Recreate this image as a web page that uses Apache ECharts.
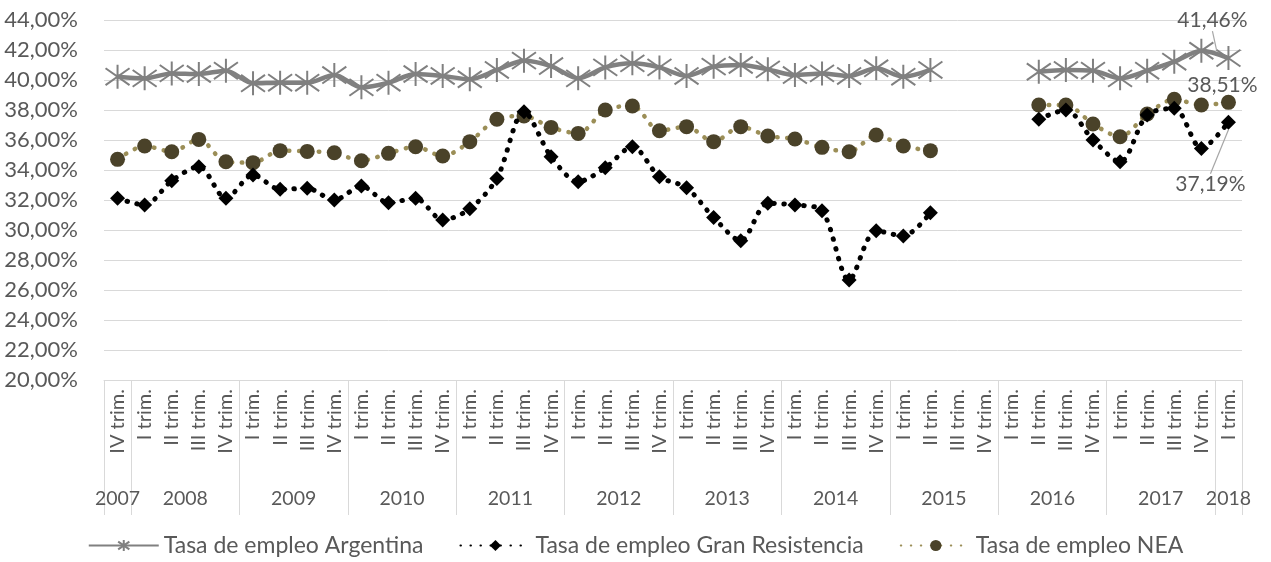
<!DOCTYPE html>
<html>
<head>
<meta charset="utf-8">
<script src="https://cdn.jsdelivr.net/npm/echarts@6/dist/echarts.min.js"></script>
<style>
html,body{margin:0;padding:0;background:#fff;}
#chart{width:1271px;height:562px;}
</style>
</head>
<body>
<div id="chart"></div>
<script>
// ---- data ----
const quarters = [
  "IV trim.",
  "I trim.","II trim.","III trim.","IV trim.",
  "I trim.","II trim.","III trim.","IV trim.",
  "I trim.","II trim.","III trim.","IV trim.",
  "I trim.","II trim.","III trim.","IV trim.",
  "I trim.","II trim.","III trim.","IV trim.",
  "I trim.","II trim.","III trim.","IV trim.",
  "I trim.","II trim.","III trim.","IV trim.",
  "I trim.","II trim.","III trim.","IV trim.",
  "I trim.","II trim.","III trim.","IV trim.",
  "I trim.","II trim.","III trim.","IV trim.",
  "I trim."
];
const years = ["2007","2008","2009","2010","2011","2012","2013","2014","2015","2016","2017","2018"];
const yearCenters = [0.5,3,7,11,15,19,23,27,31,35,39,41.5];
const yearBounds = [0,1,5,9,13,17,21,25,29,33,37,41,42];

const argentina = [
  40.22,
  40.11,40.44,40.40,40.62,
  39.78,39.82,39.82,40.33,
  39.51,39.82,40.40,40.27,
  40.05,40.67,41.29,40.93,
  40.11,40.84,41.11,40.84,
  40.27,40.89,41.00,40.71,
  40.33,40.44,40.27,40.78,
  40.22,40.67,null,null,
  null,40.55,40.67,40.62,
  40.11,40.62,41.22,41.95,
  41.46
];
const granResistencia = [
  32.11,
  31.67,33.29,34.22,32.11,
  33.67,32.71,32.78,32.00,
  32.93,31.82,32.11,30.67,
  31.41,33.44,37.89,34.89,
  33.22,34.15,35.55,33.55,
  32.82,30.84,29.29,31.78,
  31.67,31.29,26.67,29.95,
  29.60,31.15,null,null,
  null,37.38,38.00,36.00,
  34.55,37.67,38.11,35.44,
  37.19
];
const nea = [
  34.71,
  35.60,35.22,36.04,34.55,
  34.49,35.29,35.24,35.15,
  34.62,35.11,35.55,34.93,
  35.89,37.38,37.60,36.84,
  36.44,38.00,38.27,36.62,
  36.89,35.89,36.89,36.27,
  36.07,35.51,35.22,36.33,
  35.60,35.29,null,null,
  null,38.33,38.33,37.07,
  36.22,37.73,38.71,38.33,
  38.51
];
const yMin = 20, yMax = 44, yStep = 2;

// ---- chart ----
const FONT = 'Lato';
const TXT = '#595959';
const GRID = '#d9d9d9';
const fmtPct = v => v.toFixed(2).replace('.', ',') + '%';
const lastIdx = quarters.length - 1;
const labelStyle = { fontFamily: FONT, fontSize: 21, color: TXT };

function withLastLabel(arr, pos) {
  return arr.map((v, i) => i === lastIdx ? {
    value: v,
    label: Object.assign({ show: true, position: pos, formatter: p => fmtPct(p.value) }, labelStyle)
  } : v);
}
function shiftLabel(dx, dy) {
  return p => {
    if (p.dataIndex !== lastIdx || !p.labelRect) return {};
    const r = p.labelRect;
    return { x: r.x + r.width / 2 + dx, y: r.y + r.height / 2 + dy, align: 'center', verticalAlign: 'middle' };
  };
}

const asterisk = 'path://M10,0 L10,20 M1,3 L19,17 M1,17 L19,3';

const chart = echarts.init(document.getElementById('chart'), null, {renderer: 'canvas'});
chart.setOption({
  animation: false,
  backgroundColor: '#ffffff',
  textStyle: { fontFamily: FONT, color: TXT },
  grid: { left: 104, right: 29, top: 20, bottom: 182, containLabel: false },
  legend: {
    bottom: 0,
    left: 'center',
    itemWidth: 70,
    itemHeight: 14,
    itemGap: 36,
    textStyle: { fontFamily: FONT, fontSize: 23, color: TXT },
    data: ['Tasa de empleo Argentina', 'Tasa de empleo Gran Resistencia', 'Tasa de empleo NEA']
  },
  xAxis: [
    {
      type: 'category',
      data: quarters,
      boundaryGap: true,
      axisLine: { show: true, lineStyle: { color: GRID, width: 1 } },
      axisTick: { show: false },
      axisLabel: { rotate: 90, interval: 0, margin: 9, fontFamily: FONT, fontSize: 20, color: TXT }
    },
    {
      type: 'value',
      min: 0, max: quarters.length,
      position: 'bottom',
      axisLine: { show: false },
      splitLine: { show: false },
      axisTick: { show: true, customValues: yearBounds, length: 135, inside: false,
                  lineStyle: { color: GRID, width: 1 } },
      axisLabel: {
        customValues: yearCenters, margin: 109, fontFamily: FONT, fontSize: 19.5, color: TXT,
        formatter: v => { const k = yearCenters.indexOf(v); return k >= 0 ? years[k] : ''; }
      }
    }
  ],
  yAxis: {
    type: 'value',
    min: yMin, max: yMax, interval: yStep,
    axisLine: { show: false },
    axisTick: { show: false },
    splitLine: { show: true, lineStyle: { color: GRID, width: 1 } },
    axisLabel: { margin: 26, fontFamily: FONT, fontSize: 22, color: TXT, formatter: v => fmtPct(v) }
  },
  series: [
    {
      name: 'Tasa de empleo Argentina',
      type: 'line',
      xAxisIndex: 0,
      data: withLastLabel(argentina, 'top'),
      symbol: asterisk,
      symbolSize: 24,
      smooth: 0.3,
      lineStyle: { color: '#808080', width: 4.5 },
      itemStyle: { color: 'rgba(0,0,0,0)', borderColor: '#808080', borderWidth: 2 },
      label: Object.assign({ show: false }, labelStyle),
      labelLine: { show: true, lineStyle: { color: '#a6a6a6', width: 1.2 } },
      labelLayout: shiftLabel(-16, -9),
      z: 3
    },
    {
      name: 'Tasa de empleo Gran Resistencia',
      type: 'line',
      xAxisIndex: 0,
      data: withLastLabel(granResistencia, 'bottom'),
      symbol: 'diamond',
      symbolSize: 15,
      smooth: 0.3,
      lineStyle: { color: '#000000', width: 5, type: [0.5, 9.5], cap: 'round' },
      itemStyle: { color: '#000000' },
      label: Object.assign({ show: false }, labelStyle),
      labelLine: { show: true, lineStyle: { color: '#a6a6a6', width: 1.2 } },
      labelLayout: shiftLabel(-18, 39),
      z: 4
    },
    {
      name: 'Tasa de empleo NEA',
      type: 'line',
      xAxisIndex: 0,
      data: withLastLabel(nea, 'top'),
      symbol: 'circle',
      symbolSize: 15,
      smooth: 0.3,
      lineStyle: { color: '#9b8e57', width: 4.5, type: [0.5, 9.5], cap: 'round' },
      itemStyle: { color: '#4a4229' },
      label: Object.assign({ show: false }, labelStyle),
      labelLayout: shiftLabel(-6, 6),
      z: 2
    }
  ]
});
</script>
</body>
</html>
